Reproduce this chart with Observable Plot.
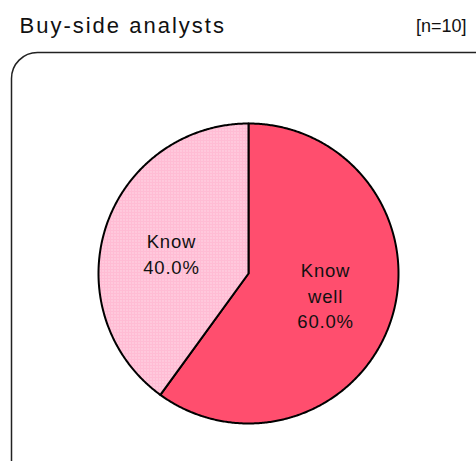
<!DOCTYPE html>
<html><head><meta charset="utf-8">
<script src="https://cdn.jsdelivr.net/npm/d3@7"></script>
<script src="https://cdn.jsdelivr.net/npm/@observablehq/plot@0.6"></script>
<style>
body{margin:0;overflow:hidden;background:#fff}
</style>
</head><body><div id="chart"></div>
<script>
const titleText = "Buy-side analysts";
const sampleNote = "[n=10]";
const categories = ["Know well", "Know"];
const sliceLabels = ["Know\nwell", "Know"];
const shares = [60.0, 40.0];
const patternIds = ["pat-knowwell", "pat-know"];

const data = categories.map((c, i) => ({category: c, label: sliceLabels[i] + "\n" + shares[i].toFixed(1) + "%", share: shares[i], pat: patternIds[i]}));
const arcs = d3.pie().sort(null).value(d => d.share)(data);
arcs.forEach(a => { a.data.start = a.startAngle; a.data.end = a.endAngle; a.data.mid = (a.startAngle + a.endAngle) / 2; });

// polygon outline of each slice (unit circle, angle clockwise from 12 o'clock)
function slicePolygon(d) {
  const pts = [{x: 0, y: 0}];
  const n = Math.max(2, Math.ceil((d.end - d.start) / (Math.PI / 360)));
  for (let k = 0; k <= n; k++) {
    const a = d.start + (d.end - d.start) * k / n;
    pts.push({x: Math.sin(a), y: Math.cos(a)});
  }
  pts.push({x: 0, y: 0});
  return pts;
}

const W = 476, H = 461;
const R = 150, CX = 248, CY = 273;
const font = "'Liberation Sans', Arial, sans-serif";

const chart = Plot.plot({
  width: W, height: H,
  margin: 0,
  x: {domain: [-CX / R, (W - CX) / R], range: [0, W], axis: null},
  y: {domain: [-(H - CY) / R, CY / R], range: [H, 0], axis: null},
  style: {fontFamily: font, background: "#fff", overflow: "hidden"},
  marks: [
    Plot.frame({rx: 26, ry: 26, insetLeft: 11, insetTop: 52, insetRight: -40, insetBottom: -40, stroke: "#222", strokeWidth: 1.5}),
    ...data.map(d => Plot.line(slicePolygon(d), {x: "x", y: "y", fill: `url(#${d.pat})`, stroke: "#000", strokeWidth: 2, strokeLinejoin: "round", curve: "linear"})),
    Plot.text(data, {x: d => 0.54 * Math.sin(d.mid), y: d => 0.45 * Math.cos(d.mid), text: "label", fontSize: 18.5, lineHeight: 1.38, fill: "#111"}),
    Plot.text([titleText], {frameAnchor: "top-left", dx: 19, dy: 25, textAnchor: "start", lineAnchor: "middle", fontSize: 22, fill: "#111"}),
    Plot.text([sampleNote], {frameAnchor: "top-right", dx: -10, dy: 26, textAnchor: "end", lineAnchor: "middle", fontSize: 18, fill: "#111"})
  ]
});

// texture patterns used as slice fills
const svg = d3.select(chart);
const defs = svg.insert("defs", ":first-child");
const p1 = defs.append("pattern").attr("id", "pat-knowwell").attr("patternUnits", "userSpaceOnUse").attr("width", 2).attr("height", 2);
p1.append("rect").attr("width", 2).attr("height", 2).attr("fill", "#ff3a5c");
p1.append("rect").attr("width", 1).attr("height", 1).attr("fill", "#ff8aa2");
const p2 = defs.append("pattern").attr("id", "pat-know").attr("patternUnits", "userSpaceOnUse").attr("width", 3).attr("height", 3);
p2.append("rect").attr("width", 3).attr("height", 3).attr("fill", "#ffbcd4");
p2.append("rect").attr("width", 1).attr("height", 1).attr("fill", "#ffeef4");

svg.selectAll("text").filter(function() { return this.textContent === titleText; }).style("letter-spacing", "2px");
svg.selectAll("text").filter(function() { return this.textContent.startsWith("Know"); }).style("letter-spacing", "0.8px");

document.getElementById("chart").append(chart);
</script>
</body></html>
